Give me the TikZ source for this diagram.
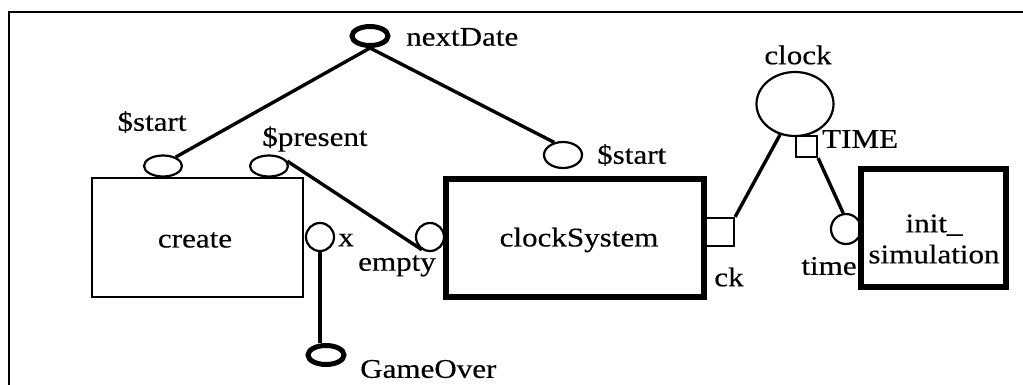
\documentclass[tikz,border=0pt]{standalone}
\usepackage{fontspec}
\setmainfont{Liberation Serif}[FakeStretch=1.15,FakeBold=0.4]
\usetikzlibrary{shapes.geometric}
\begin{document}
\begin{tikzpicture}[x=1pt,y=-1pt,
  txt/.style={inner sep=0pt,font=\fontsize{27}{31}\selectfont},
  port/.style={ellipse,draw,line width=2.2pt,inner sep=0pt,minimum width=38pt,minimum height=21pt},
  cport/.style={circle,draw,line width=2.2pt,inner sep=0pt,minimum size=28pt},
  tport/.style={ellipse,draw,line width=5pt,inner sep=0pt,minimum width=36pt,minimum height=19pt},
  sq/.style={rectangle,draw,line width=2.2pt,inner sep=0pt},
  box/.style={rectangle,draw,line width=2.4pt,inner sep=0pt},
  bigbox/.style={rectangle,draw,line width=5.5pt,inner sep=0pt},
  conn/.style={line width=3.4pt},
]
\useasboundingbox (0,0) rectangle (1023,385);
\draw[line width=2.8pt] (1023,12) -- (9,12) -- (9,385);

% boxes
\node[box,minimum width=211pt,minimum height=119pt] (create) at (197.5,237.5) {};
\node[txt] (createlbl) at (195,240) {create};
\node[bigbox,minimum width=258pt,minimum height=118pt] (cs) at (575,238) {};
\node[txt] (cslbl) at (579,240) {clockSystem};
\node[bigbox,minimum width=145pt,minimum height=118pt] (init) at (933.5,228) {};
\node[txt,align=center] (initlbl) at (934,239) {init\_\\simulation};

% ports
\node[tport] (nd) at (370,36) {};
\node[port] (s1) at (163,166) {};
\node[port] (sp) at (269,166) {};
\node[cport] (px) at (320,237) {};
\node[tport] (go) at (326,355) {};
\node[cport] (em) at (430,237) {};
\node[port,minimum height=26pt] (s2) at (563,155) {};
\node[sq,minimum size=28pt] (ck) at (720,232) {};
\node[ellipse,draw,line width=2.2pt,inner sep=0pt,minimum width=77pt,minimum height=64pt] (clk) at (795,104) {};
\node[sq,minimum size=21pt] (tm) at (806.5,146.5) {};
\node[cport,minimum size=30pt] (tp) at (846,229) {};

% labels
\node[txt,anchor=west] (ndl) at (406,37) {nextDate};
\node[txt] (s1l) at (152,122) {\$start};
\node[txt] (spl) at (315,139) {\$present};
\node[txt] (pxl) at (346,240) {x};
\node[txt,anchor=west] (gol) at (360,369) {GameOver};
\node[txt] (eml) at (397,266) {empty};
\node[txt,anchor=west] (s2l) at (597,155) {\$start};
\node[txt] (ckl) at (729,277) {ck};
\node[txt] (clkl) at (798,55) {clock};
\node[txt,anchor=west] (tml) at (822,139) {TIME};
\node[txt] (tpl) at (829,266) {time};

% connectors
\draw[conn] (nd.south) -- (s1.35);
\draw[conn] (nd.south) -- (s2.125);
\draw[conn] (sp.15) -- (em.-122);
\draw[conn] (px.south) -- (px.south |- go.north);
\draw[conn] (ck.north east) -- (clk.-116);
\draw[conn] (tm.south east) -- (tp.100);
\end{tikzpicture}
\end{document}
